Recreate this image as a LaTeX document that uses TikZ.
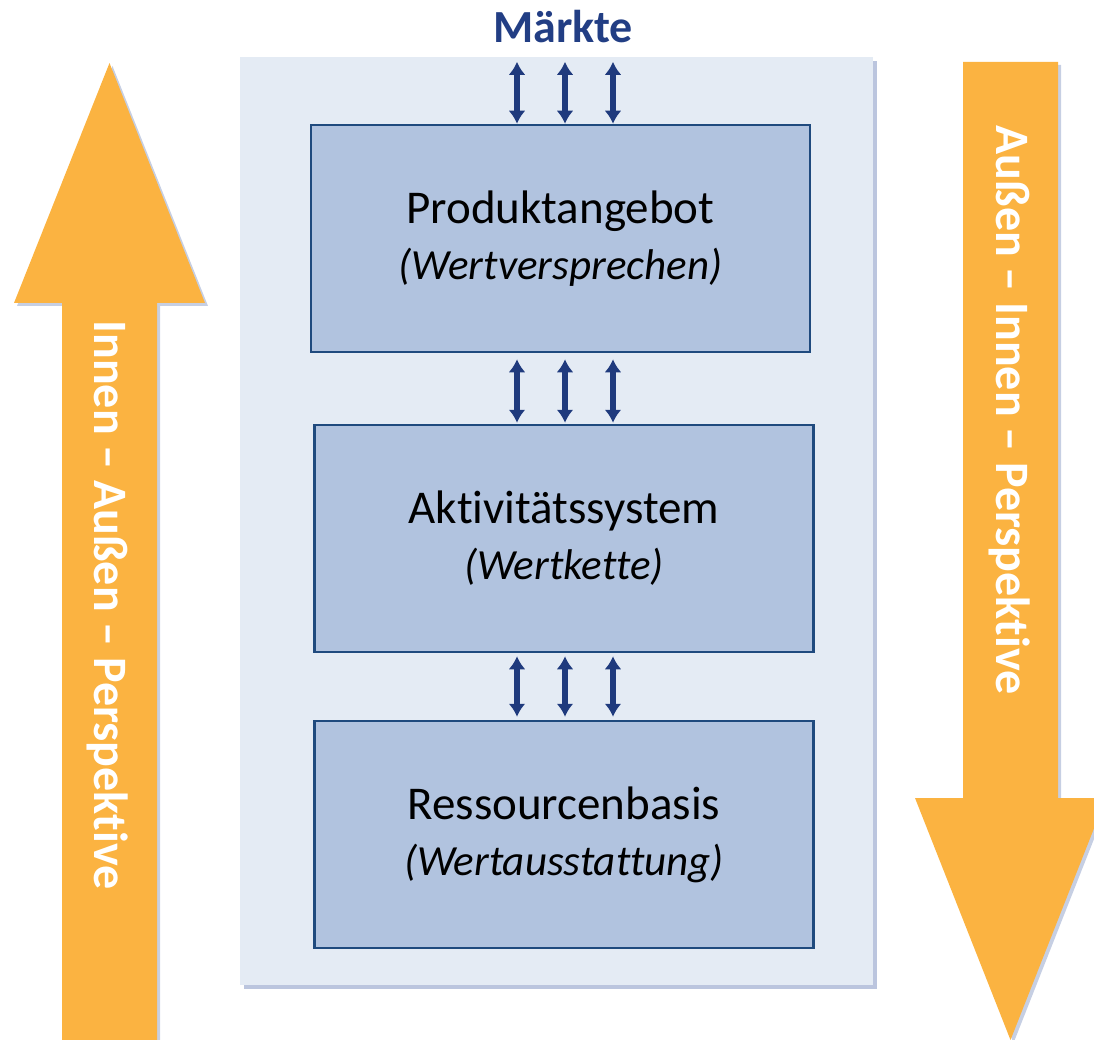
\documentclass[tikz,border=0pt]{standalone}
\usepackage{fontspec}
\setmainfont{Carlito}[Ligatures=NoCommon]
\usetikzlibrary{arrows.meta,shadows}

\definecolor{orangearrow}{HTML}{FBB341}
\definecolor{panelbg}{HTML}{E4EBF4}
\definecolor{boxfill}{HTML}{B1C3DF}
\definecolor{boxline}{HTML}{1F4A7E}
\definecolor{navy}{HTML}{1F3A7D}
\definecolor{marktblue}{HTML}{223E84}
\definecolor{shadowblue}{HTML}{8E9FC8}

\newcommand{\subline}[1]{\fontsize{43}{43}\selectfont\textit{#1}}

\tikzset{
  panelbox/.style={fill=panelbg, minimum width=633pt, minimum height=928pt,
    drop shadow={fill=shadowblue, opacity=0.6, shadow xshift=4pt, shadow yshift=-4pt}},
  layerbox/.style={draw=boxline, line width=2.5pt, fill=boxfill,
    minimum width=499pt, minimum height=227pt, align=center, inner sep=0pt,
    font=\fontsize{47}{56}\selectfont},
  linkarrow/.style={draw=navy, line width=6pt,
    {Latex[length=13pt,width=17pt]}-{Latex[length=13pt,width=17pt]}},
  bigarrow/.style={fill=orangearrow,
    drop shadow={fill=shadowblue, opacity=0.5, shadow xshift=3pt, shadow yshift=-3pt}},
  sidetext/.style={text=white, rotate=-90, font=\fontsize{48}{48}\selectfont\bfseries}
}

\begin{document}
\begin{tikzpicture}[x=1pt,y=-1pt]
  \useasboundingbox (0,0) rectangle (1094,1040);
  \clip (0,0) rectangle (1094,1040);

  % big arrows
  \fill[bigarrow] (62,1045) -- (62,303) -- (14,303) -- (109.5,63) -- (205,303)
    -- (157,303) -- (157,1045) -- cycle;
  \fill[bigarrow] (963,62) -- (1058,62) -- (1058,798) -- (1106,798) -- (1010.5,1040)
    -- (915,798) -- (963,798) -- cycle;
  \node (inout) at (108,605) [sidetext] {Innen – Außen – Perspektive};
  \node (outin) at (1010,410) [sidetext] {Außen – Innen – Perspektive};

  % panel and layers
  \node (panel) at (556.5,521) [panelbox] {};
  \node (markt) at (563,27) [text=marktblue, font=\fontsize{46}{46}\selectfont\bfseries] {Märkte};

  \node (box1) at (560.5,238.5) [layerbox] {Produktangebot\\\subline{(Wertversprechen)}};
  \node (box2) at (564,538.5) [layerbox] {Aktivitätssystem\\\subline{(Wertkette)}};
  \node (box3) at (564,834.5) [layerbox] {Ressourcenbasis\\\subline{(Wertausstattung)}};

  % links
  \foreach \i/\cx in {1/517,2/565,3/613}
    \coordinate (col\i) at (\cx,0);
  \foreach \i in {1,2,3} {
    \draw[linkarrow, shorten <=5pt] (col\i |- panel.north) -- (col\i |- box1.north);
    \draw[linkarrow, shorten <=6pt, shorten >=1pt] (col\i |- box1.south) -- (col\i |- box2.north);
    \draw[linkarrow, shorten <=3pt, shorten >=3pt] (col\i |- box2.south) -- (col\i |- box3.north);
  }
\end{tikzpicture}
\end{document}
